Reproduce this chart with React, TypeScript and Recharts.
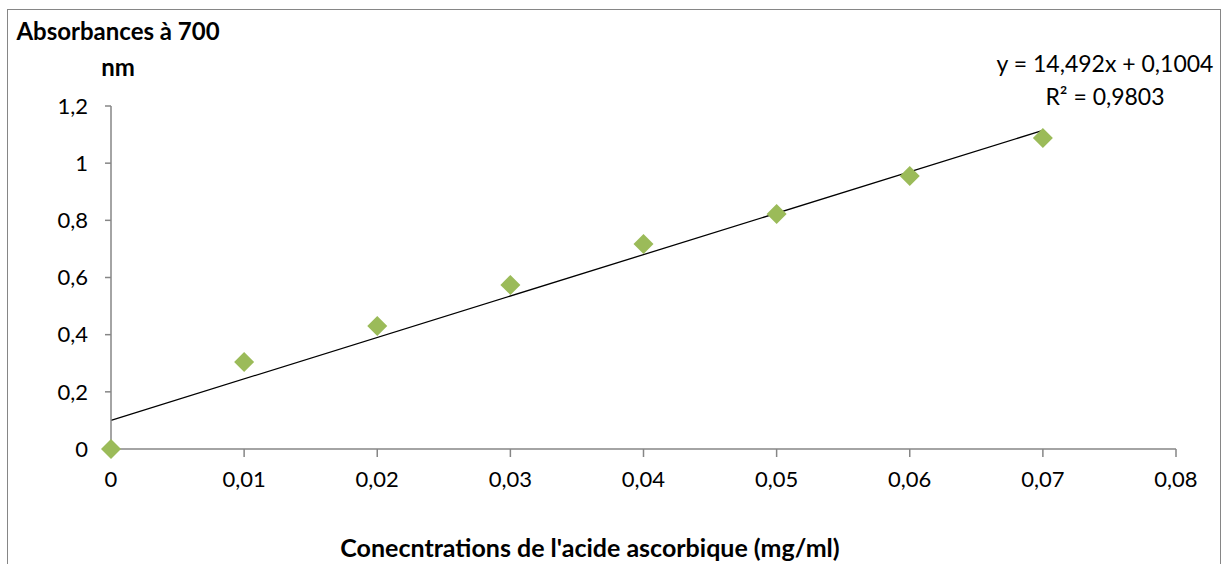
import { ScatterChart, Scatter, XAxis, YAxis, ReferenceLine } from "recharts";

const concentrations = [0, 0.01, 0.02, 0.03, 0.04, 0.05, 0.06, 0.07];
const absorbances = [0, 0.304, 0.43, 0.574, 0.717, 0.822, 0.955, 1.088];

const xTicks = [0, 0.01, 0.02, 0.03, 0.04, 0.05, 0.06, 0.07, 0.08];
const xTickLabels = ["0", "0,01", "0,02", "0,03", "0,04", "0,05", "0,06", "0,07", "0,08"];
const yTicks = [0, 0.2, 0.4, 0.6, 0.8, 1, 1.2];
const yTickLabels = ["0", "0,2", "0,4", "0,6", "0,8", "1", "1,2"];

const trendSlope = 14.492;
const trendIntercept = 0.1004;
const trendRange = [0, 0.07];

const points = concentrations.map((x, i) => ({ x, y: absorbances[i] }));

const FONT = "Lato, 'Liberation Sans', sans-serif";
const AXIS = "#868686";

function Diamond(props: any) {
  const { cx, cy } = props;
  const r = 10;
  return (
    <polygon
      points={`${cx},${cy - r} ${cx + r},${cy} ${cx},${cy + r} ${cx - r},${cy}`}
      fill="#9bbb59"
    />
  );
}

const labelFor = (ticks: number[], labels: string[]) => (v: number) => {
  const i = ticks.findIndex((t) => Math.abs(t - v) < 1e-9);
  return i >= 0 ? labels[i] : String(v);
};

export default function App() {
  const trendSegment = trendRange.map((x) => ({ x, y: trendSlope * x + trendIntercept }));

  return (
    <div style={{ position: "relative", width: 1224, height: 564, overflow: "hidden", fontFamily: FONT }}>
      <style>{`body{margin:0;overflow:hidden}`}</style>
      <div
        style={{
          position: "absolute",
          left: 7,
          top: 9,
          width: 1212,
          height: 600,
          border: `1px solid ${AXIS}`,
          pointerEvents: "none",
        }}
      />
      <ScatterChart width={1224} height={564} margin={{ top: 106, right: 48, bottom: 75, left: 0 }}>
        <XAxis
          type="number"
          dataKey="x"
          domain={[0, 0.08]}
          ticks={xTicks}
          tickFormatter={labelFor(xTicks, xTickLabels)}
          height={40}
          tickSize={8}
          tickMargin={14}
          stroke={AXIS}
          strokeWidth={1.5}
          tick={{ fill: "#000", fontSize: 22, fontFamily: FONT }}
          interval={0}
        />
        <YAxis
          type="number"
          dataKey="y"
          domain={[0, 1.2]}
          ticks={yTicks}
          tickFormatter={labelFor(yTicks, yTickLabels)}
          width={111}
          tickSize={6}
          tickMargin={17}
          stroke={AXIS}
          strokeWidth={1.5}
          tick={{ fill: "#000", fontSize: 22, fontFamily: FONT }}
          interval={0}
        />
        <ReferenceLine
          segment={trendSegment}
          stroke="#000"
          strokeWidth={1.3}
          ifOverflow="visible"
        />
        <Scatter data={points} shape={Diamond} isAnimationActive={false} />
      </ScatterChart>
      <div
        style={{
          position: "absolute",
          left: 8,
          top: 13,
          width: 220,
          textAlign: "center",
          fontWeight: "bold",
          fontSize: 24,
          lineHeight: "36px",
          whiteSpace: "nowrap",
        }}
      >
        Absorbances à 700
        <br />
        nm
      </div>
      <div
        style={{
          position: "absolute",
          left: 980,
          top: 47,
          width: 250,
          textAlign: "center",
          fontSize: 23,
          lineHeight: "33px",
        }}
      >
        y = 14,492x + 0,1004
        <br />
        R² = 0,9803
      </div>
      <div
        style={{
          position: "absolute",
          left: 0,
          top: 532,
          width: 1180,
          textAlign: "center",
          fontWeight: "bold",
          fontSize: 25,
        }}
      >
        Conecntrations de l'acide ascorbique (mg/ml)
      </div>
    </div>
  );
}
